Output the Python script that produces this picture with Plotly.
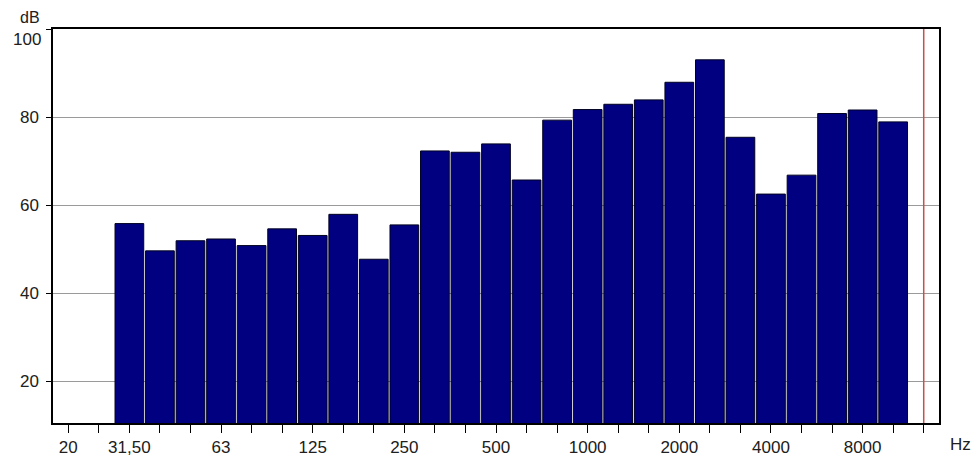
import plotly.graph_objects as go

# Third-octave band centres (Hz) shown on the frequency axis
bands = ["20", "25", "31.5", "40", "50", "63", "80", "100", "125", "160", "200",
         "250", "315", "400", "500", "630", "800", "1000", "1250", "1600", "2000",
         "2500", "3150", "4000", "5000", "6300", "8000", "10000", "12500"]

# Sound level per band (dB); None where no band level is shown
levels_db = [None, None, 55.8, 49.6, 51.9, 52.3, 50.8, 54.6, 53.1, 57.9, 47.7,
             55.5, 72.3, 72.0, 73.9, 65.7, 79.3, 81.7, 82.9, 83.9, 87.9,
             93.0, 75.4, 62.5, 66.8, 80.8, 81.6, 78.9, None]

# Axis label text per band (only octave marks are labelled)
tick_labels = ["20", "", "31,50", "", "", "63", "", "", "125", "", "",
               "250", "", "", "500", "", "", "1000", "", "", "2000",
               "", "", "4000", "", "", "8000", "", ""]

y_ticks = [20, 40, 60, 80, 100]
# the top label is drawn separately, just under the frame edge
y_tick_text = ["20", "40", "60", "80", ""]
marker_band = "12500"

pos = list(range(len(bands)))
xs = [p for p, v in zip(pos, levels_db) if v is not None]
ys = [v for v in levels_db if v is not None]

fig = go.Figure()
fig.add_trace(go.Bar(
    x=xs, y=ys,
    marker=dict(color="#000080", line=dict(color="#000020", width=1)),
    hoverinfo="skip",
))

font = dict(family="Liberation Sans, Arial, sans-serif", size=17, color="#202020")

fig.update_layout(
    width=977, height=457,
    margin=dict(l=53, r=38, t=29, b=34),
    paper_bgcolor="white", plot_bgcolor="white",
    bargap=0.06, showlegend=False, font=font,
    xaxis=dict(
        range=[-0.5, len(bands) - 0.5],
        tickmode="array", tickvals=pos, ticktext=tick_labels,
        ticks="outside", ticklen=8, tickcolor="#000", tickwidth=1,
        showgrid=False, zeroline=False, automargin=False,
        showline=True, linecolor="#000", linewidth=1.5, mirror=True,
        tickfont=font,
    ),
    yaxis=dict(
        range=[10.5, 100],
        tickmode="array", tickvals=y_ticks, ticktext=y_tick_text,
        ticks="outside", ticklen=5, tickcolor="#000", tickwidth=1,
        ticklabelstandoff=4,
        showgrid=True, gridcolor="#9a9a9a", gridwidth=1,
        zeroline=False, automargin=False,
        showline=True, linecolor="#000", linewidth=1.5, mirror=True,
        tickfont=font,
    ),
)

# Upper frequency limit marker
mi = bands.index(marker_band)
fig.add_shape(type="line", xref="x", yref="paper", x0=mi, x1=mi, y0=0, y1=1,
              line=dict(color="#c8504a", width=1.5))

fig.add_annotation(text=str(y_ticks[-1]), xref="paper", yref="y", x=0, y=y_ticks[-1],
                   xanchor="right", yanchor="middle", xshift=-10, yshift=-10,
                   showarrow=False, font=font)
fig.add_annotation(text="dB", xref="paper", yref="paper", x=0, y=1,
                   xanchor="right", yanchor="middle", xshift=-11, yshift=12,
                   showarrow=False, font=dict(family=font["family"], size=16, color="#202020"))
fig.add_annotation(text="Hz", xref="paper", yref="paper", x=1, y=0,
                   xanchor="left", yanchor="middle", xshift=9, yshift=-21,
                   showarrow=False, font=font)

fig.write_html("out.html")
